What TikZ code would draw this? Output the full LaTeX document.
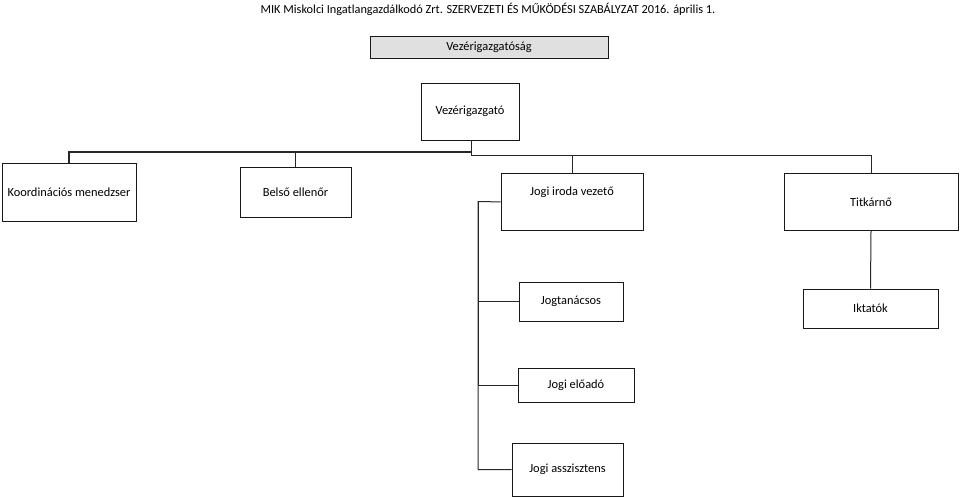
\documentclass[tikz,border=0pt]{standalone}
\usepackage{fontspec}
\setmainfont{Carlito}
\usetikzlibrary{positioning}

\tikzset{%
  unit/.style={draw=black!90, line width=0.9pt, fill=white, text centered, inner sep=0pt, font=\fontsize{12.4}{14}\selectfont},
  head/.style={unit, fill=black!12},
  line/.style={draw, line width=1pt, color=black!85},
}

\begin{document}
\begin{tikzpicture}[x=1pt, y=-1pt]
\useasboundingbox (0,0) rectangle (960,497);
\node[font=\fontsize{12.3}{14}\selectfont] (cim) at (488,9) {MIK Miskolci Ingatlangazdálkodó Zrt. SZERVEZETI ÉS MŰKÖDÉSI SZABÁLYZAT 2016. április 1.};
% felso szint
\node[head, minimum width=238pt, minimum height=22pt] (vgs) at (489,47) {Vezérigazgatóság};
\node[unit, minimum width=98pt, minimum height=57pt] (vg) at (470,111.5) {Vezérigazgató};
% kozvetlen beosztottak
\node[unit, minimum width=134pt, minimum height=58pt] (km) at (69,192) {Koordinációs menedzser};
\node[unit, minimum width=111pt, minimum height=50pt] (be) at (295.5,192) {Belső ellenőr};
\node[unit, minimum width=142pt, minimum height=57pt, text depth=22pt, anchor=north] (jiv) at (572,173) {Jogi iroda vezető};
\node[unit, minimum width=174pt, minimum height=57pt] (tit) at (871,202) {Titkárnő};
% jogi iroda
\node[unit, minimum width=104pt, minimum height=39pt] (jt) at (571,301.5) {Jogtanácsos};
\node[unit, minimum width=116pt, minimum height=34pt] (je) at (576,385) {Jogi előadó};
\node[unit, minimum width=111pt, minimum height=53pt] (ja) at (567.5,469.5) {Jogi asszisztens};
% titkarsag
\node[unit, minimum width=135pt, minimum height=39pt] (ikt) at (870.5,308.5) {Iktatók};

\coordinate (elag) at (471,156);
\coordinate (bal) at (471,152);
\coordinate (busz) at (478,201.5);
\path[line] (vg.south -| elag) -- (elag) -| (tit.north);
\path[line] (elag) -| (jiv.north);
\path[line, line width=1.2pt] (bal) -| (km.north);
\path[line, line width=1.2pt] (bal) -| (be.north);
\path[line] (tit.south) -- (ikt.north);
\path[line] (jiv.west) -- (busz) |- (ja.west);
\path[line] (busz) |- (jt.west);
\path[line] (busz) |- (je.west);
\end{tikzpicture}
\end{document}
